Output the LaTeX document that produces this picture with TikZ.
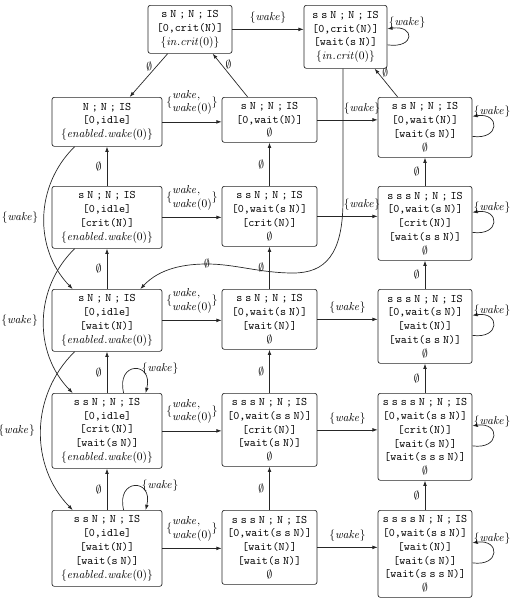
\documentclass[tikz,border=0pt]{standalone}
\usetikzlibrary{arrows.meta,calc}
\newcommand\pxu{0.87pt}
\newcommand\myTg{\hspace{2.6pt}}
\newcommand\myHd[1]{\texttt{#1\myTg;\myTg N\myTg;\myTg IS}}
\newcommand\myEnw{$\{\mathit{enabled}.\mathit{wake}(0)\}$}
\newcommand\myInc{$\{\mathit{in}.\mathit{crit}(0)\}$}
\newcommand\myWk{$\{\mathit{wake}\}$}
\newcommand\myWkz{$\{\begin{array}{@{}l@{}}\mathit{wake},\\\mathit{wake}(0)\end{array}\}$}
\newcommand\myS{s\myTg}
\begin{document}
\begin{tikzpicture}[x=0.87pt,y=-0.87pt,
  st/.style={draw=black!85, rounded corners=2pt, line width=0.6pt, align=center, inner sep=1pt, anchor=north},
  arr/.style={-{Latex[length=4.5pt,width=3.2pt]}, draw=black!85, line width=0.6pt},
  lb/.style={inner sep=1pt}]
\useasboundingbox (0,0) rectangle (518,599);
% row 0
\node[st, minimum width=84*\pxu, minimum height=48*\pxu] (A0) at (190,5)
  {\myHd{s\myTg N}\\ \texttt{[0,crit(N)]}\\ \myInc};
\node[st, minimum width=83*\pxu, minimum height=63*\pxu] (B0) at (345.5,5)
  {\myHd{\myS s\myTg N}\\ \texttt{[0,crit(N)]}\\ \texttt{[wait(s\myTg N)]}\\ \myInc};
% row 1
\node[st, minimum width=110*\pxu, minimum height=49*\pxu] (C1) at (107,97)
  {\myHd{N}\\ \texttt{[0,idle]}\\ \myEnw};
\node[st, minimum width=95*\pxu, minimum height=45*\pxu] (M1) at (269.5,97)
  {\myHd{s\myTg N}\\ \texttt{[0,wait(N)]}\\ $\emptyset$};
\node[st, minimum width=94*\pxu, minimum height=60*\pxu] (R1) at (425,97)
  {\myHd{\myS s\myTg N}\\ \texttt{[0,wait(N)]}\\ \texttt{[wait(s\myTg N)]}\\ $\emptyset$};
% row 2
\node[st, minimum width=110*\pxu, minimum height=62*\pxu] (C2) at (107,186)
  {\myHd{s\myTg N}\\ \texttt{[0,idle]}\\ \texttt{[crit(N)]}\\ \myEnw};
\node[st, minimum width=95*\pxu, minimum height=60*\pxu] (M2) at (269.5,186)
  {\myHd{\myS s\myTg N}\\ \texttt{[0,wait(s\myTg N)]}\\ \texttt{[crit(N)]}\\ $\emptyset$};
\node[st, minimum width=94*\pxu, minimum height=74*\pxu] (R2) at (425,186)
  {\myHd{\myS\myS s\myTg N}\\ \texttt{[0,wait(s\myTg N)]}\\ \texttt{[crit(N)]}\\ \texttt{[wait(\myS s\myTg N)]}\\ $\emptyset$};
% row 3
\node[st, minimum width=110*\pxu, minimum height=62*\pxu] (C3) at (107,289)
  {\myHd{s\myTg N}\\ \texttt{[0,idle]}\\ \texttt{[wait(N)]}\\ \myEnw};
\node[st, minimum width=95*\pxu, minimum height=60*\pxu] (M3) at (269.5,289)
  {\myHd{\myS s\myTg N}\\ \texttt{[0,wait(s\myTg N)]}\\ \texttt{[wait(N)]}\\ $\emptyset$};
\node[st, minimum width=94*\pxu, minimum height=74*\pxu] (R3) at (425,289)
  {\myHd{\myS\myS s\myTg N}\\ \texttt{[0,wait(s\myTg N)]}\\ \texttt{[wait(N)]}\\ \texttt{[wait(\myS s\myTg N)]}\\ $\emptyset$};
% row 4
\node[st, minimum width=110*\pxu, minimum height=75*\pxu] (C4) at (107,393)
  {\myHd{\myS s\myTg N}\\ \texttt{[0,idle]}\\ \texttt{[crit(N)]}\\ \texttt{[wait(s\myTg N)]}\\ \myEnw};
\node[st, minimum width=95*\pxu, minimum height=73*\pxu] (M4) at (269.5,393)
  {\myHd{\myS\myS s\myTg N}\\ \texttt{[0,wait(\myS s\myTg N)]}\\ \texttt{[crit(N)]}\\ \texttt{[wait(s\myTg N)]}\\ $\emptyset$};
\node[st, minimum width=94*\pxu, minimum height=87*\pxu] (R4) at (425,393)
  {\myHd{\myS\myS\myS s\myTg N}\\ \texttt{[0,wait(\myS s\myTg N)]}\\ \texttt{[crit(N)]}\\ \texttt{[wait(s\myTg N)]}\\ \texttt{[wait(\myS\myS s\myTg N)]}\\ $\emptyset$};
% row 5
\node[st, minimum width=110*\pxu, minimum height=76*\pxu] (C5) at (107,510)
  {\myHd{\myS s\myTg N}\\ \texttt{[0,idle]}\\ \texttt{[wait(N)]}\\ \texttt{[wait(s\myTg N)]}\\ \myEnw};
\node[st, minimum width=95*\pxu, minimum height=74*\pxu] (M5) at (269.5,510)
  {\myHd{\myS\myS s\myTg N}\\ \texttt{[0,wait(\myS s\myTg N)]}\\ \texttt{[wait(N)]}\\ \texttt{[wait(s\myTg N)]}\\ $\emptyset$};
\node[st, minimum width=94*\pxu, minimum height=87*\pxu] (R5) at (425,510)
  {\myHd{\myS\myS\myS s\myTg N}\\ \texttt{[0,wait(\myS s\myTg N)]}\\ \texttt{[wait(N)]}\\ \texttt{[wait(s\myTg N)]}\\ \texttt{[wait(\myS\myS s\myTg N)]}\\ $\emptyset$};

% top edges
\draw[arr] (A0.east) -- (A0.east -| B0.west) node[midway, above=1.5pt]{\myWk};
\draw[arr] ($(A0.south west)+(20,0)$) -- ($(C1.north west)+(78,0)$) node[pos=0.3, left]{$\emptyset$};
\draw[arr] ($(M1.north west)+(26,0)$) -- ($(A0.south west)+(65,0)$) node[pos=0.75, right]{$\emptyset$};
\draw[arr] ($(R1.north west)+(20,0)$) -- ($(B0.south west)+(71,0)$) node[pos=0.85, right]{$\emptyset$};

% horizontal edges
\foreach \r in {1,...,5}{
  \draw[arr] (C\r.east) -- (C\r.east -| M\r.west) node[midway, above=1.5pt]{\myWkz};
}
\foreach \r/\p in {1/0.74,2/0.74,3/0.5,4/0.5,5/0.5}{
  \draw[arr] (M\r.east) -- (M\r.east -| R\r.west) node[pos=\p, above=1.5pt]{\myWk};
}
% vertical edges
\foreach \a/\b in {2/1,3/2,4/3,5/4}{
  \draw[arr] (C\a.north) -- (C\b.south) node[midway, left=1pt]{$\emptyset$};
  \draw[arr] (M\a.north) -- (M\b.south) node[midway, left=1pt]{$\emptyset$};
  \draw[arr] (R\a.north) -- (R\b.south) node[midway, left=1pt]{$\emptyset$};
}
% self loops on the right
\draw[arr] ($(B0.east)+(0,8)$) .. controls +(28,4) and +(28,-4) .. ($(B0.east)+(0,-8)$)
  node[lb, anchor=west, yshift=5pt]{\myWk};
\foreach \r in {1,...,5}{
  \draw[arr] ($(R\r.east)+(0,9)$) .. controls +(28,4) and +(28,-4) .. ($(R\r.east)+(0,-11)$)
    node[lb, anchor=west, yshift=4pt]{\myWk};
}
% self loops on top
\foreach \r in {4,5}{
  \draw[arr] ($(C\r.north west)+(72,0)$) .. controls +(-8,-32) and +(8,-32) .. ($(C\r.north west)+(94,0)$)
    node[pos=0.5, lb, anchor=west, xshift=5pt]{\myWk};
}
% left bent edges
\draw[arr] ($(C1.south west)+(23,0)$) to[bend right=45] node[midway, left=1.5pt]{\myWk} ($(C3.north west)+(21,0)$);
\draw[arr] ($(C2.south west)+(23,0)$) to[bend right=45] node[midway, left=1.5pt]{\myWk} ($(C4.north west)+(21,0)$);
\draw[arr] ($(C3.south west)+(23,0)$) to[bend right=45] node[midway, left=1.5pt]{\myWk} ($(C5.north west)+(21,0)$);
% long curve
\draw[arr] ($(B0.south)+(-2.5,0)$) -- (343,200) .. controls (343,255) and (325,273) .. (293,273)
  .. controls (260,273) and (235,264) .. (207,264) node[inner sep=0pt]{$\emptyset$}
  .. controls (185,264) and (160,268) .. ($(C3.north east)+(-22,0)$);
\end{tikzpicture}
\end{document}
